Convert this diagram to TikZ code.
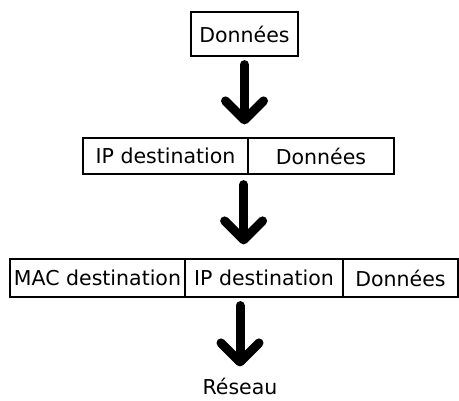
\documentclass[tikz,border=0pt]{standalone}
\usepackage{fontspec}
\setmainfont{DejaVu Sans}
\usepackage{tikz}
\usetikzlibrary{arrows.meta}

\begin{document}
\begin{tikzpicture}[x=1pt,y=-1pt,
  cell/.style={shape=rectangle,draw=black,line width=1.2pt,inner sep=0pt,font=\fontsize{20.5}{24}\selectfont},
  bigarrow/.style={-{Straight Barb[length=19pt,width=38pt,round]},line width=9pt,line cap=round,black}]

\useasboundingbox (0,0) rectangle (459,401);

%% first row

%% nodes
\node[cell, minimum width=107pt, minimum height=44pt] (d1) at (244.5,34) {Données};

%% second row

%% nodes
\node[cell, minimum width=165pt, minimum height=36pt] (ip1) at (165.5,156) {IP destination};
\node[cell, minimum width=146pt, minimum height=36pt] (d2) at (321,156) {Données};

%% third row

%% nodes
\node[cell, minimum width=175pt, minimum height=38pt] (mac) at (97.5,278) {MAC destination};
\node[cell, minimum width=158pt, minimum height=38pt] (ip2) at (264,278) {IP destination};
\node[cell, minimum width=115pt, minimum height=38pt] (d3) at (400.5,278) {Données};

%% network
\node[inner sep=0pt, anchor=base, font=\fontsize{20.5}{24}\selectfont] (res) at (240,395) {Réseau};

%% arrows
\draw[bigarrow, shorten <=8pt, shorten >=13pt] (d1.south) -- (d1.south |- ip1.north);
\draw[bigarrow, shorten <=10pt, shorten >=14pt] ([xshift=-5pt]ip1.south east) -- ([xshift=-5pt]ip1.south east |- ip2.north);
\draw[bigarrow, shorten <=8pt, shorten >=12pt] (res.north |- ip2.south) -- (res.north);

\end{tikzpicture}
\end{document}
